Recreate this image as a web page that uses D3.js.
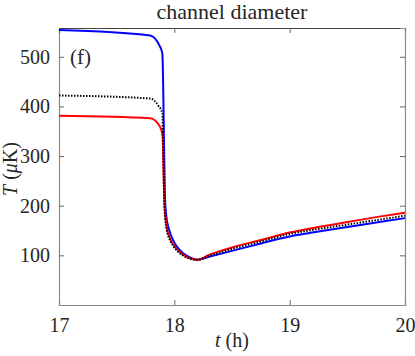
<!DOCTYPE html>
<html><head><meta charset="utf-8">
<script src="https://cdn.jsdelivr.net/npm/d3@7"></script>
<style>body{margin:0;background:#fff}svg{display:block}text{font-family:"Liberation Serif","DejaVu Serif",serif;fill:#262626}</style>
</head><body><svg id="c" width="415" height="356"></svg>
<script>
const title = "channel diameter";
const panelLabel = "(f)";
const xTicks = [17, 18, 19, 20];
const yTicks = [100, 200, 300, 400, 500];
// time (h) and temperature (μK)
const tBlue  = [17, 17.79, 17.87, 17.896, 17.902, 17.906, 17.91, 17.919, 17.93, 17.948, 17.97, 17.991, 18.02, 18.064, 18.11, 18.165, 18.2, 18.3, 18.4, 18.5, 18.75, 19, 19.25, 19.5, 19.75, 20];
const vBlue  = [554, 543, 523, 507, 460, 400, 332, 215, 180, 157, 141, 130, 118, 107, 99, 93, 91, 97, 103, 109, 124, 138, 148, 157, 166, 175];
const tBlack = [17, 17.79, 17.86, 17.896, 17.902, 17.906, 17.912, 17.92, 17.935, 17.96, 17.99, 18.03, 18.08, 18.14, 18.2, 18.3, 18.4, 18.5, 18.75, 19, 19.25, 19.5, 19.75, 20];
const vBlack = [422, 416, 402, 386, 345, 290, 215, 175, 150, 132, 119, 108, 99, 93, 91, 99, 106, 113, 128, 143, 153, 162, 171, 180];
const tRed   = [17, 17.79, 17.876, 17.895, 17.9, 17.906, 17.913, 17.922, 17.934, 17.963, 17.99, 18.02, 18.06, 18.107, 18.15, 18.2, 18.3, 18.4, 18.5, 18.75, 19, 19.25, 19.5, 19.75, 20];
const vRed   = [381, 376, 359, 345, 332, 270, 211, 180, 157, 134, 122, 113, 104, 97, 93, 91, 101, 109, 116, 131, 146, 157, 167, 177, 186];

const svg = d3.select("#c");
const L = 59, R = 405, T = 28, B = 305;
const x = d3.scaleLinear().domain([17, 20]).range([L, R]);
const y = d3.scaleLinear().domain([0, 558]).range([B, T]);
const FONT = "'Liberation Serif', 'DejaVu Serif', serif";

const gx = svg.append("g").attr("transform", `translate(0,${B})`)
  .call(d3.axisBottom(x).tickValues(xTicks).tickSize(-5).tickPadding(13).tickFormat(d3.format("d")));
const gy = svg.append("g").attr("transform", `translate(${L},0)`)
  .call(d3.axisLeft(y).tickValues(yTicks).tickSize(-5).tickPadding(9).tickFormat(d3.format("d")));
const gxt = svg.append("g").attr("transform", `translate(0,${T})`)
  .call(d3.axisTop(x).tickValues(xTicks).tickSize(-5).tickFormat(""));
const gyr = svg.append("g").attr("transform", `translate(${R},0)`)
  .call(d3.axisRight(y).tickValues(yTicks).tickSize(-5).tickFormat(""));
[gx, gy, gxt, gyr].forEach(g => {
  g.attr("font-family", FONT).attr("font-size", 20);
  g.select(".domain").attr("stroke", "#8a8a8a").attr("stroke-width", 1.2);
  g.selectAll(".tick line").attr("stroke", "#666");
  g.selectAll(".tick text").attr("font-size", 20).attr("fill", "#262626")
   .attr("font-family", FONT);
});
gxt.select(".domain").attr("stroke", "#444");

const line = d3.line().x(d => x(d[0])).y(d => y(d[1])).curve(d3.curveMonotoneX);
const zip = (a, b) => a.map((t, i) => [t, b[i]]);

svg.append("path").datum(zip(tBlue, vBlue)).attr("d", line)
  .attr("fill", "none").attr("stroke", "#0000ff").attr("stroke-width", 2);
svg.append("path").datum(zip(tRed, vRed)).attr("d", line)
  .attr("fill", "none").attr("stroke", "#ff0000").attr("stroke-width", 2);
svg.append("path").datum(zip(tBlack, vBlack)).attr("d", line)
  .attr("fill", "none").attr("stroke", "#000").attr("stroke-width", 2).attr("stroke-dasharray", "1.5,1.5");

svg.append("text").attr("x", 232).attr("y", 19).attr("text-anchor", "middle")
  .attr("font-size", 22).text(title);
svg.append("text").attr("x", 70).attr("y", 64).attr("font-size", 21).text(panelLabel);

const xl = svg.append("text").attr("x", 232).attr("y", 347).attr("text-anchor", "middle").attr("font-size", 20);
xl.append("tspan").attr("font-style", "italic").text("t");
xl.append("tspan").text(" (h)");

const yl = svg.append("text").attr("transform", "translate(17,169) rotate(-90)").attr("text-anchor", "middle").attr("font-size", 20);
yl.append("tspan").attr("font-style", "italic").text("T");
yl.append("tspan").text(" (");
yl.append("tspan").attr("font-style", "italic").text("μ");
yl.append("tspan").text("K)");
</script></body></html>
